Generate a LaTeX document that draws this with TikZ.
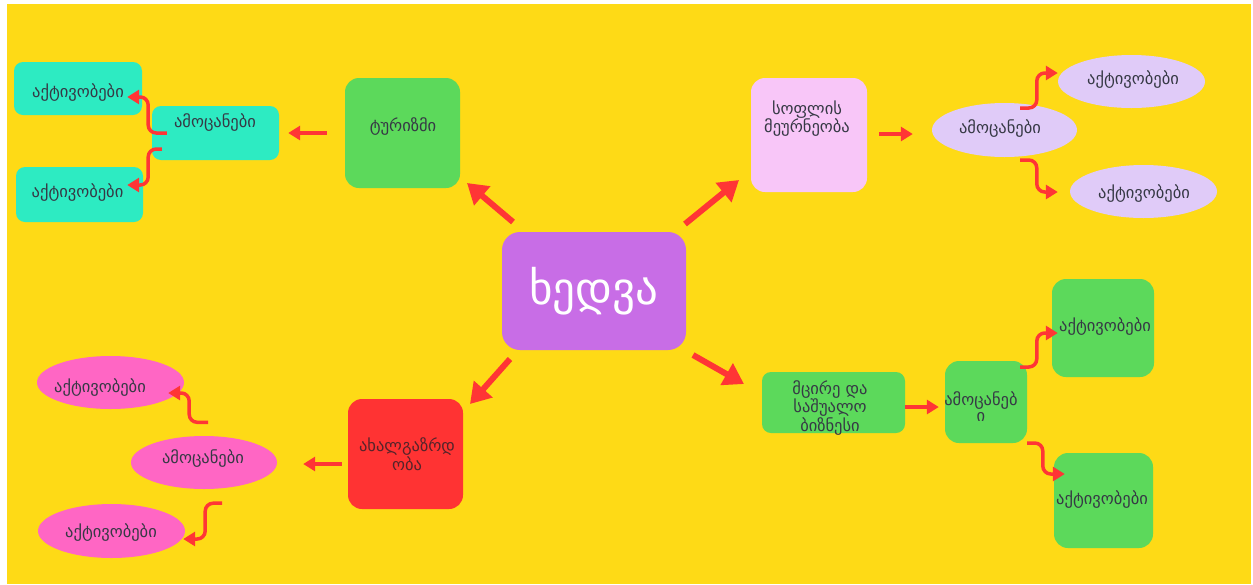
\documentclass[tikz,border=0pt]{standalone}
\usepackage{fontspec}
\setmainfont{DejaVu Sans}
\usetikzlibrary{arrows.meta,calc,shapes.geometric}
\definecolor{bgyellow}{HTML}{FEDA16}
\definecolor{hubpurple}{HTML}{C86DE6}
\definecolor{tgreen}{HTML}{5CD95B}
\definecolor{tteal}{HTML}{2DEBC2}
\definecolor{tpink}{HTML}{F8C6F8}
\definecolor{tlav}{HTML}{E0CBF8}
\definecolor{thot}{HTML}{FF66C4}
\definecolor{tred}{HTML}{FF3333}
\definecolor{arrred}{HTML}{FF3535}
\definecolor{txtgray}{HTML}{363945}
\definecolor{txtdark}{HTML}{55242A}
\begin{document}
\begin{tikzpicture}[x=1pt,y=-1pt,
  box/.style={rounded corners=14pt, inner sep=0pt, draw=none},
  flatbox/.style={rounded corners=9pt, inner sep=0pt, draw=none},
  ell/.style={ellipse, inner sep=0pt, draw=none},
  txt/.style={font=\fontsize{16.5}{15.5}\selectfont, text=txtgray, align=center, inner sep=0pt},
  big/.style={draw=arrred, line width=6pt, -{Triangle[length=20pt,width=24pt]}},
  arr/.style={draw=arrred, line width=3.5pt, -{Triangle[length=12pt,width=14pt]}},
  elb/.style={arr, rounded corners=8pt}]
\useasboundingbox (0,0) rectangle (1253,584);
\fill[white] (0,0) rectangle (1253,584);
\fill[bgyellow] (7,4) rectangle (1251,584);

% hub
\node[box, rounded corners=18pt, fill=hubpurple, minimum width=184pt, minimum height=118pt,
      text=white, font=\fontsize{45}{46}\selectfont] (hub) at (594,291) {ხედვა};

% tourism branch
\node[box, fill=tgreen, minimum width=115pt, minimum height=110pt] (tur) at (402.5,133) {};
\node[txt] (tur-t) at (403,127) {ტურიზმი};
\node[flatbox, fill=tteal, minimum width=127pt, minimum height=54pt] (tamoc) at (215.5,133) {};
\node[txt] (tamoc-t) at (215,123) {ამოცანები};
\node[flatbox, fill=tteal, minimum width=128pt, minimum height=53pt] (takt1) at (78,88.5) {};
\node[txt] (takt1-t) at (78,93) {აქტივობები};
\node[flatbox, fill=tteal, minimum width=127pt, minimum height=55pt] (takt2) at (79.5,194.5) {};
\node[txt] (takt2-t) at (77.5,193) {აქტივობები};

% agriculture branch
\node[box, fill=tpink, minimum width=116pt, minimum height=114pt] (agr) at (809,135) {};
\node[txt] (agr-t) at (807,118.5) {სოფლის\\მეურნეობა};
\node[ell, fill=tlav, minimum width=145pt, minimum height=54pt] (lamoc) at (1004.5,130) {};
\node[txt] (lamoc-t) at (1000,129) {ამოცანები};
\node[ell, fill=tlav, minimum width=147pt, minimum height=53pt] (lakt1) at (1131.5,81.5) {};
\node[txt] (lakt1-t) at (1133,80) {აქტივობები};
\node[ell, fill=tlav, minimum width=147pt, minimum height=53pt] (lakt2) at (1143.5,191.5) {};
\node[txt] (lakt2-t) at (1144,194) {აქტივობები};

% business branch
\node[flatbox, fill=tgreen, minimum width=143pt, minimum height=61pt] (biz) at (833.5,402.5) {};
\node[txt] (biz-t) at (830,408) {მცირე და\\საშუალო\\ბიზნესი};
\node[box, fill=tgreen, minimum width=82pt, minimum height=82pt] (gamoc) at (986,402) {};
\node[txt] (gamoc-t) at (981,406.5) {ამოცანებ\\ი};
\node[box, fill=tgreen, minimum width=102pt, minimum height=98pt] (gakt1) at (1103,328) {};
\node[txt] (gakt1-t) at (1105,327) {აქტივობები};
\node[box, fill=tgreen, minimum width=99pt, minimum height=95pt] (gakt2) at (1103.5,500.5) {};
\node[txt] (gakt2-t) at (1102,500) {აქტივობები};

% youth branch
\node[box, fill=tred, minimum width=115pt, minimum height=110pt] (youth) at (405.5,454) {};
\node[txt, text=txtdark] (youth-t) at (407,454.5) {ახალგაზრდ\\ობა};
\node[ell, fill=thot, minimum width=146pt, minimum height=53pt] (pamoc) at (204,462.5) {};
\node[txt] (pamoc-t) at (203,459) {ამოცანები};
\node[ell, fill=thot, minimum width=147pt, minimum height=53pt] (pakt1) at (110.5,382.5) {};
\node[txt] (pakt1-t) at (100,388) {აქტივობები};
\node[ell, fill=thot, minimum width=147pt, minimum height=54pt] (pakt2) at (111.5,531) {};
\node[txt] (pakt2-t) at (111,533) {აქტივობები};

% diagonal arrows from the hub
\draw[big] ($(hub)+(-81,-69)$) -- ($(tur)+(64.5,50)$);
\draw[big] ($(hub)+(91,-67)$) -- ($(agr)+(-70,45)$);
\draw[big] ($(hub)+(99,64)$) -- ($(biz)+(-89.5,-18.5)$);
\draw[big] ($(hub)+(-84,68)$) -- ($(youth)+(64.5,-50)$);

% straight arrows
\draw[arr] ($(tur.west)+(-18,0)$) -- ($(tamoc.east)+(9,0)$);
\draw[arr] ($(agr.east)+(12,-1)$) -- ($(lamoc.west)+(-19,4)$);
\draw[arr] ($(biz.east)+(0,4.5)$) -- ($(gamoc.west)+(-6,5)$);
\draw[arr] ($(youth.west)+(-6,10)$) -- ($(pamoc.east)+(26,1.5)$);

% elbow arrows
\draw[elb] ($(tamoc.west)+(15,0)$) -| ($(takt1.east)+(6,8.5)$) -- ($(takt1.east)+(-15,8.5)$);
\draw[elb] ($(tamoc.west)+(10,16)$) -| ($(takt2.east)+(5,-9.5)$) -- ($(takt2.east)+(-16,-9.5)$);
\draw[elb] ($(lamoc.east)+(-57,-22)$) -| ($(lakt1.west)+(-21,-8.5)$) -- (lakt1.west |- 0,73);
\draw[elb] ($(lamoc.east)+(-57,30)$) -| ($(lakt2.west)+(-33,0.5)$) -- ($(lakt2.west)+(-12,0.5)$);
\draw[elb] ($(gamoc.east)+(-7,-35)$) -| ($(gakt1.west)+(-15,5)$) -- ($(gakt1.west)+(6,5)$);
\draw[elb] ($(gamoc.east)+(0,41)$) -| ($(gakt2.west)+(-11,-26.5)$) -- ($(gakt2.west)+(11,-26.5)$);
\draw[elb] ($(pamoc.north)+(4,-13.5)$) -| ($(pakt1.east)+(5,10.5)$) -- ($(pakt1.east)+(-16,10.5)$);
\draw[elb] ($(pamoc.south)+(18,14)$) -| ($(pakt2.east)+(20,8)$) -- ($(pakt2.east)+(-2,8)$);
\end{tikzpicture}
\end{document}
